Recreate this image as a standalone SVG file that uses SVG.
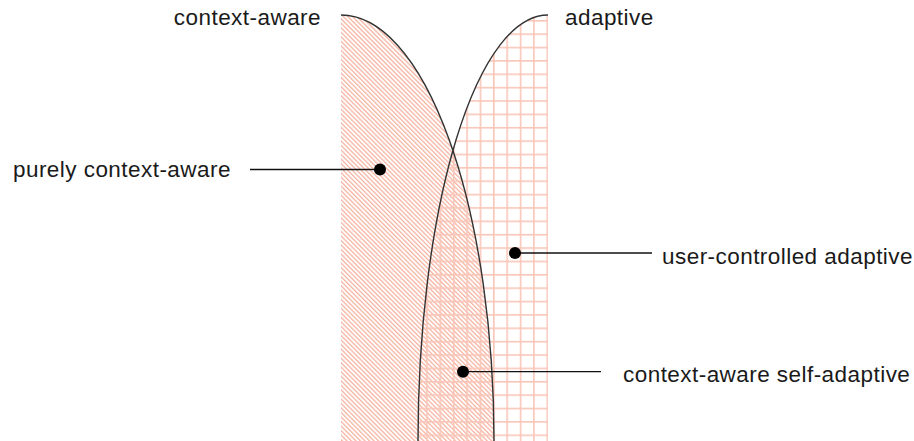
<svg xmlns="http://www.w3.org/2000/svg" width="914" height="441" viewBox="0 0 914 441">
  <style>
    .lbl { font-family: "Liberation Sans", Arial, sans-serif; font-size: 22.5px; letter-spacing: 0.45px; fill: #1a1a1a; }
    .curve { fill: none; stroke: #333; stroke-width: 1.4; }
    .leader { stroke: #111; stroke-width: 1.3; fill: none; }
    .dot { fill: #000; }
  </style>
  <defs>
    <pattern id="hatch" patternUnits="userSpaceOnUse" width="3.2" height="10" patternTransform="rotate(-45)">
      <rect x="0" y="0" width="1.3" height="10" fill="#f7b4a2"/>
    </pattern>
    <pattern id="grid" patternUnits="userSpaceOnUse" x="11.7" y="6.6" width="13.37" height="13.37">
      <rect x="0" y="0" width="1.6" height="13.37" fill="#f9c6b8"/>
      <rect x="0" y="0" width="13.37" height="1.6" fill="#f9c6b8"/>
    </pattern>
  </defs>

  <g id="context-aware">
    <path d="M341,15 A153,426 0 0 1 494,441 L341,441 Z" fill="url(#hatch)"/>
  </g>
  <g id="adaptive">
    <path d="M548,15 A130,426 0 0 0 418,441 L548,441 Z" fill="url(#grid)"/>
  </g>
  <g id="outlines">
    <path class="curve" d="M341,15 A153,426 0 0 1 494,441"/>
    <path class="curve" d="M548,15 A130,426 0 0 0 418,441"/>
  </g>

  <g id="connectors">
    <line class="leader" x1="250" y1="169.5" x2="380" y2="169.5"/>
    <circle class="dot" cx="380" cy="169.5" r="6"/>
    <line class="leader" x1="515" y1="253" x2="652" y2="253"/>
    <circle class="dot" cx="515" cy="253" r="6"/>
    <line class="leader" x1="463" y1="371.7" x2="601" y2="371.7"/>
    <circle class="dot" cx="463" cy="371.7" r="6"/>
  </g>

  <g id="label-context-aware"><text class="lbl" x="321" y="25" text-anchor="end">context-aware</text></g>
  <g id="label-adaptive"><text class="lbl" x="565" y="25">adaptive</text></g>
  <g id="label-purely"><text class="lbl" x="13" y="177">purely context-aware</text></g>
  <g id="label-user"><text class="lbl" x="662" y="264">user-controlled adaptive</text></g>
  <g id="label-self"><text class="lbl" x="623" y="382">context-aware self-adaptive</text></g>
</svg>
